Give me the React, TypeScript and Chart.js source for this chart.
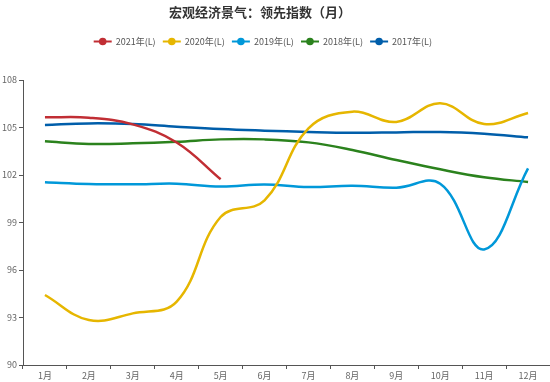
import React, { useEffect, useRef } from 'react';
import { Chart, registerables } from 'chart.js';
Chart.register(...registerables);

const months = ['1月', '2月', '3月', '4月', '5月', '6月', '7月', '8月', '9月', '10月', '11月', '12月'];
const yTicks = [90, 93, 96, 99, 102, 105, 108];
const seriesNames = ['2021年(L)', '2020年(L)', '2019年(L)', '2018年(L)', '2017年(L)'];
const seriesColors = ['#c12e34', '#e6b600', '#0098d9', '#2b821d', '#005eaa'];
const s2021 = [105.64, 105.62, 105.2, 104.05, 101.73];
const s2020 = [94.42, 92.84, 93.26, 94.0, 99.35, 100.4, 104.95, 106.0, 105.35, 106.53, 105.22, 105.92];
const s2019 = [101.54, 101.43, 101.41, 101.45, 101.27, 101.4, 101.24, 101.32, 101.2, 101.45, 97.3, 102.42];
const s2018 = [104.13, 103.96, 104.0, 104.1, 104.25, 104.25, 104.06, 103.58, 102.95, 102.36, 101.86, 101.56];
const s2017 = [105.16, 105.26, 105.22, 105.05, 104.9, 104.8, 104.72, 104.67, 104.69, 104.72, 104.61, 104.38];
const allSeries = [s2021, s2020, s2019, s2018, s2017];
const titleText = '宏观经济景气：领先指数（月）';

const FONT = '"Noto Sans CJK SC", "Noto Sans", sans-serif';

const headerPlugin = {
  id: 'header',
  afterDraw(chart: any) {
    const ctx = chart.ctx;
    ctx.save();
    ctx.fillStyle = '#333';
    ctx.font = `bold 13px ${FONT}`;
    ctx.textAlign = 'center';
    ctx.textBaseline = 'middle';
    ctx.fillText(titleText, 260, 12);
    ctx.font = `9px ${FONT}`;
    ctx.textAlign = 'left';
    for (let i = 0; i < seriesNames.length; i++) {
      const cx = 102.7 + i * 69.1;
      const cy = 41.5;
      const col = seriesColors[i];
      ctx.strokeStyle = col;
      ctx.lineWidth = 2;
      ctx.beginPath();
      ctx.moveTo(cx - 9, cy);
      ctx.lineTo(cx + 9, cy);
      ctx.stroke();
      ctx.fillStyle = col;
      ctx.beginPath();
      ctx.arc(cx, cy, 3.8, 0, Math.PI * 2);
      ctx.fill();
      ctx.fillStyle = '#555';
      ctx.fillText(seriesNames[i], cx + 13, cy);
    }
    ctx.restore();
  },
};

export default function App() {
  const ref = useRef<HTMLCanvasElement>(null);
  useEffect(() => {
    if (!ref.current) return;
    const chart = new Chart(ref.current, {
      type: 'line',
      data: {
        labels: months,
        datasets: allSeries.map((d, i) => ({
          label: seriesNames[i],
          data: d,
          borderColor: seriesColors[i],
          backgroundColor: seriesColors[i],
          borderWidth: 2.5,
          pointRadius: 0,
          pointHoverRadius: 0,
          tension: 0.4,
          fill: false,
        })),
      },
      options: {
        responsive: false,
        animation: false,
        layout: { padding: { top: 80, left: 0, right: 0, bottom: 0 } },
        plugins: {
          legend: { display: false },
          title: { display: false },
          tooltip: { enabled: false },
        },
        scales: {
          x: {
            type: 'category',
            offset: true,
            grid: {
              offset: true,
              drawOnChartArea: false,
              drawTicks: true,
              tickLength: 4,
              color: '#555',
            },
            border: { display: true, color: '#555', width: 1 },
            ticks: {
              color: '#666',
              font: { size: 9, family: FONT },
              padding: 1,
              maxRotation: 0,
              autoSkip: false,
            },
            afterFit(scale: any) {
              scale.height = 17;
              scale.paddingRight = 0;
              scale.paddingLeft = 0;
            },
          },
          y: {
            min: 90,
            max: 108,
            afterBuildTicks(scale: any) {
              scale.ticks = yTicks.map((v) => ({ value: v }));
            },
            grid: {
              drawOnChartArea: false,
              drawTicks: true,
              tickLength: 4,
              color: '#555',
            },
            border: { display: true, color: '#555', width: 1 },
            ticks: {
              color: '#666',
              font: { size: 9, family: FONT },
              padding: 2,
            },
            afterFit(scale: any) {
              scale.width = 23;
            },
          },
        },
      },
      plugins: [headerPlugin],
    });
    return () => chart.destroy();
  }, []);
  return (
    <div style={{ position: 'absolute', left: 0, top: 0, width: 550, height: 382, background: '#fff' }}>
      <canvas ref={ref} width={550} height={382} style={{ display: 'block' }} />
    </div>
  );
}
